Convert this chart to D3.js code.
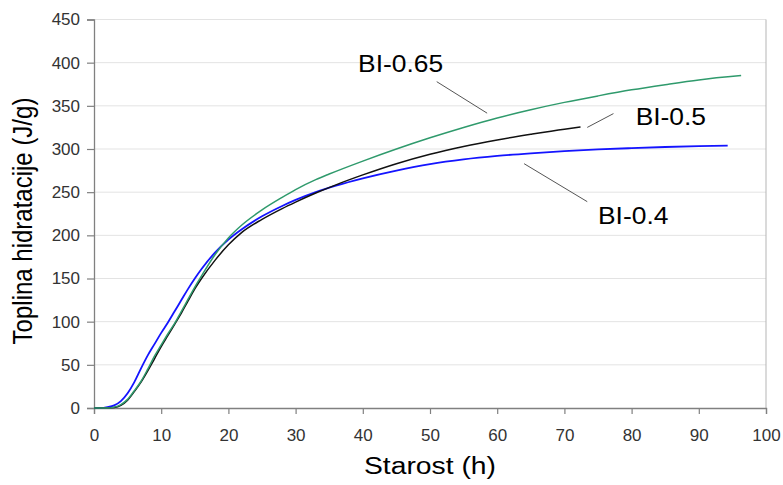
<!DOCTYPE html>
<html>
<head>
<meta charset="utf-8">
<script src="https://cdn.jsdelivr.net/npm/d3@7"></script>
<style>
  body { margin: 0; background: #fff; }
  text { font-family: "Liberation Sans", Arial, sans-serif; }
</style>
</head>
<body>
<svg id="chart" width="783" height="485"></svg>
<script>
// hydration heat curves
const xBI04 = [0, 1, 2, 3, 4, 5, 6, 7, 8, 9, 10, 11, 12, 13, 14, 15, 16, 18, 20, 22, 25, 28, 30, 33, 36, 40, 45, 50, 55, 60, 65, 70, 75, 80, 85, 90, 94.3];
const yBI04 = [0, 0, 1, 3, 8, 17, 30, 46, 61, 74, 87, 99, 112, 125, 138, 150, 161, 180, 195, 207, 222, 234, 241, 250, 257.5, 266, 275, 282.5, 288, 292, 295, 297.5, 299.5, 301, 302.3, 303.3, 304];

const xBI05 = [0, 2, 3, 4, 5, 6, 7, 8, 9, 10, 11, 12, 13, 14, 15, 16, 18, 20, 22, 25, 28, 30, 33, 36, 40, 45, 50, 55, 60, 65, 70, 72.4];
const yBI05 = [0, 0, 0.5, 3, 9, 19, 30, 43, 57, 71, 84, 97, 110, 124, 138, 150, 171, 189, 203.5, 218.5, 231, 238.5, 249, 258.5, 270, 283, 294, 303, 310.5, 317, 323, 325.5];

const xBI065 = [0, 2, 3, 4, 5, 6, 7, 8, 9, 10, 11, 12, 13, 14, 15, 16, 18, 20, 22, 25, 28, 30, 33, 35, 40, 45, 50, 55, 60, 65, 70, 75, 80, 85, 90, 96.3];
const yBI065 = [0, 0, 1, 4, 10, 20, 31, 45, 60, 73, 86, 98, 112, 126, 140, 153, 177.5, 197, 212, 229.5, 244, 253, 264.5, 271, 286, 300, 313, 325, 336, 345.5, 354, 361.5, 368.5, 374.5, 380, 385];

const seriesNames = ["BI-0.4", "BI-0.5", "BI-0.65"];
const xTicks = [0, 10, 20, 30, 40, 50, 60, 70, 80, 90, 100];
const yTicks = [0, 50, 100, 150, 200, 250, 300, 350, 400, 450];

const margin = { top: 19.5, right: 17, bottom: 77, left: 94 };
const W = 783, H = 485;
const width = W - margin.left - margin.right;
const height = H - margin.top - margin.bottom;

const colors = { "BI-0.4": "#1414ff", "BI-0.5": "#111111", "BI-0.65": "#2f9a6c" };
const widths = { "BI-0.4": 1.8, "BI-0.5": 1.5, "BI-0.65": 1.5 };

// label text + leader line, in data units
const notes = {
    "BI-0.65": { tx: 39.3, ty: 389, x1: 51, y1: 378, x2: 58.5, y2: 341.5 },
    "BI-0.5":  { tx: 80.6, ty: 328, x1: 73.4, y1: 325, x2: 77.3, y2: 341 },
    "BI-0.4":  { tx: 75, ty: 213, x1: 64, y1: 283, x2: 73.4, y2: 239 }
};

const svg = d3.select("#chart");
const g = svg.append("g").attr("transform", `translate(${margin.left},${margin.top})`);

const x = d3.scaleLinear().domain([0, 100]).range([0, width]);
const y = d3.scaleLinear().domain([0, 450]).range([height, 0]);

// grid
g.append("g").selectAll("line")
    .data(yTicks.filter(d => d > 0))
    .join("line")
    .attr("x1", 0).attr("x2", width)
    .attr("y1", d => y(d)).attr("y2", d => y(d))
    .attr("stroke", "#e3e3e3").attr("stroke-width", 1);

// right border
g.append("line")
    .attr("x1", width).attr("x2", width).attr("y1", 0).attr("y2", height)
    .attr("stroke", "#b5b5b5");

const xAxis = g.append("g")
    .attr("transform", `translate(0,${height})`)
    .call(d3.axisBottom(x).tickValues(xTicks).tickSize(6).tickPadding(15));
const yAxis = g.append("g")
    .call(d3.axisLeft(y).tickValues(yTicks).tickSize(7).tickPadding(7));

[xAxis, yAxis].forEach(a => {
    a.select(".domain").attr("stroke", "#808080").attr("stroke-width", 1.3);
    a.selectAll(".tick line").attr("stroke", "#808080").attr("stroke-width", 1.2);
    a.selectAll(".tick text").attr("fill", "#333").style("font-size", "17px")
        .style("font-family", "Liberation Sans, Arial, sans-serif");
});

const series = [
    { name: "BI-0.4", xs: xBI04, ys: yBI04 },
    { name: "BI-0.5", xs: xBI05, ys: yBI05 },
    { name: "BI-0.65", xs: xBI065, ys: yBI065 }
];

const line = d3.line()
    .x(d => x(d[0]))
    .y(d => y(d[1]))
    .curve(d3.curveMonotoneX);

g.selectAll("path.curve")
    .data(series)
    .join("path")
    .attr("class", "curve")
    .attr("fill", "none")
    .attr("stroke", d => colors[d.name])
    .attr("stroke-width", d => widths[d.name])
    .attr("d", d => line(d.xs.map((v, i) => [v, d.ys[i]])));

// annotations
seriesNames.forEach(n => {
    const a = notes[n];
    g.append("line")
        .attr("x1", x(a.x1)).attr("y1", y(a.y1))
        .attr("x2", x(a.x2)).attr("y2", y(a.y2))
        .attr("stroke", "#555").attr("stroke-width", 1);
    g.append("text")
        .attr("transform", `translate(${x(a.tx)},${y(a.ty)}) scale(1.1,1)`)
        .style("font-size", "24px")
        .attr("fill", "#000")
        .text(n);
});

// axis titles
svg.append("text")
    .attr("transform", `translate(${margin.left + width / 2},474) scale(1.23,1)`)
    .attr("text-anchor", "middle")
    .style("font-size", "23px")
    .text("Starost (h)");

svg.append("text")
    .attr("transform", `translate(32,221) rotate(-90) scale(1,1.15)`)
    .attr("text-anchor", "middle")
    .style("font-size", "24px")
    .text("Toplina hidratacije (J/g)");
</script>
</body>
</html>
